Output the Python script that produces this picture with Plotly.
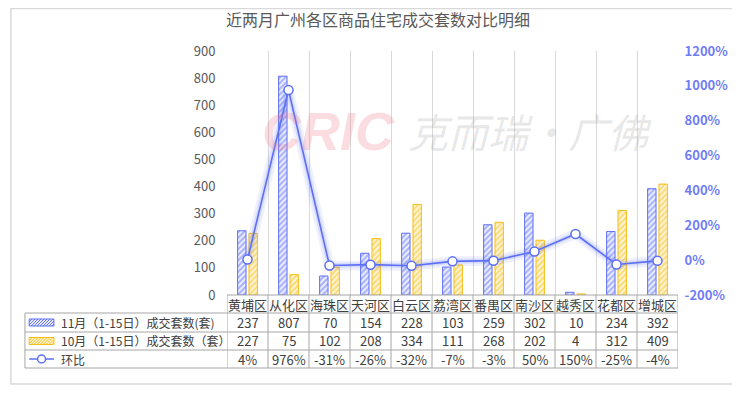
import plotly.graph_objects as go

districts = ["黄埔区", "从化区", "海珠区", "天河区", "白云区", "荔湾区", "番禺区", "南沙区", "越秀区", "花都区", "增城区"]
nov_sales = [237, 807, 70, 154, 228, 103, 259, 302, 10, 234, 392]
oct_sales = [227, 75, 102, 208, 334, 111, 268, 202, 4, 312, 409]
mom_pct = [4, 976, -31, -26, -32, -7, -3, 50, 150, -25, -4]

name_nov = "11月（1-15日）成交套数(套)"
name_oct = "10月（1-15日）成交套数（套）"
name_mom = "环比"
title = "近两月广州各区商品住宅成交套数对比明细"
left_ticks = list(range(0, 901, 100))
right_ticks = list(range(-200, 1201, 200))
right_labels = [f"{v}%" for v in right_ticks]

OFF = 8  # page body margin
VW, VH = 740, 393
W, H = VW - OFF, VH - OFF
L, R, T, B = 227, 683, 51, 295   # plot area in window pixels
FONT = "Noto Sans CJK SC, Noto Sans, sans-serif"
BLUE = "#5d6ff4"
YEL = "#f6bd16"

def px(x):
    return (x - L) / (R - L)

def py(y):
    return (B - y) / (B - T)

fig = go.Figure()
fig.add_trace(go.Bar(
    x=districts, y=nov_sales, name=name_nov,
    marker=dict(color="#eef0ff", line=dict(color=BLUE, width=1),
                pattern=dict(shape="/", fgcolor=BLUE, bgcolor="#eef0ff", size=4, solidity=0.5)),
))
fig.add_trace(go.Bar(
    x=districts, y=oct_sales, name=name_oct,
    marker=dict(color="#fff6d8", line=dict(color=YEL, width=1),
                pattern=dict(shape="/", fgcolor=YEL, bgcolor="#fff6d8", size=4, solidity=0.5)),
))
fig.add_trace(go.Scatter(x=districts, y=mom_pct, yaxis="y2", mode="lines",
                         line=dict(color="rgba(93,111,244,0.10)", width=10), hoverinfo="skip", showlegend=False))
fig.add_trace(go.Scatter(x=districts, y=mom_pct, yaxis="y2", mode="lines",
                         line=dict(color="rgba(93,111,244,0.16)", width=5), hoverinfo="skip", showlegend=False))
fig.add_trace(go.Scatter(x=districts, y=mom_pct, yaxis="y2", mode="lines+markers", name=name_mom,
                         line=dict(color=BLUE, width=1.6),
                         marker=dict(symbol="circle", size=9, color="white", line=dict(color=BLUE, width=1.5))))

shapes = []
annotations = []
LINEC = "#a6a6a6"
shapes.append(dict(type="rect", xref="paper", yref="paper", x0=px(OFF + 0.5), x1=px(738.5), y0=py(384), y1=py(OFF + 0.5),
                   line=dict(color="#d9d9d9", width=1.5), fillcolor="rgba(0,0,0,0)", layer="below"))

rows_y = [295, 313, 332, 350, 368]
tbl_left = 22.7
shapes.append(dict(type="line", xref="x", yref="paper", x0=-0.5, x1=len(districts) - 0.5,
                   y0=py(rows_y[0]), y1=py(rows_y[0]), line=dict(color=LINEC, width=1)))
for yy in rows_y[1:]:
    shapes.append(dict(type="line", xref="paper", yref="paper", x0=px(tbl_left), x1=1,
                       y0=py(yy), y1=py(yy), line=dict(color=LINEC, width=1)))
for i in range(len(districts) + 1):
    shapes.append(dict(type="line", xref="x", yref="paper", x0=i - 0.5, x1=i - 0.5,
                       y0=py(rows_y[0]), y1=py(rows_y[-1]), line=dict(color=LINEC, width=1)))
shapes.append(dict(type="line", xref="paper", yref="paper", x0=px(tbl_left), x1=px(tbl_left),
                   y0=py(rows_y[1]), y1=py(rows_y[-1]), line=dict(color=LINEC, width=1)))

row_centers = [(rows_y[k] + rows_y[k + 1]) / 2 for k in range(4)]
for i, d in enumerate(districts):
    annotations.append(dict(x=i, y=py(row_centers[0]), xref="x", yref="paper", text=d, showarrow=False,
                            xanchor="center", yanchor="middle",
                            font=dict(family=FONT, size=13, color="#404040")))
rows = [
    [str(v) for v in nov_sales],
    [str(v) for v in oct_sales],
    [f"{v}%" for v in mom_pct],
]
for k, vals in enumerate(rows):
    for i, v in enumerate(vals):
        annotations.append(dict(x=i, y=py(row_centers[k + 1]), xref="x", yref="paper", text=v, showarrow=False,
                                xanchor="center", yanchor="middle",
                                font=dict(family=FONT, size=13, color="#404040")))
for k, nm in enumerate([name_nov, name_oct, name_mom]):
    annotations.append(dict(x=px(57), y=py(row_centers[k + 1]), xref="paper", yref="paper", text=nm,
                            showarrow=False, xanchor="left", yanchor="middle",
                            font=dict(family=FONT, size=12, color="#404040")))

def key_rect(cy, fg, bg):
    x0, x1, y0, y1 = 27, 52, cy - 3.5, cy + 3.5
    shapes.append(dict(type="rect", xref="paper", yref="paper", x0=px(x0), x1=px(x1), y0=py(y1), y1=py(y0),
                       fillcolor=bg, line=dict(color=fg, width=1)))
    path = ""
    xs = x0 - 7
    while xs < x1:
        ax, ay = xs, y1
        bx, by = xs + 7, y0
        if ax < x0:
            ay = y1 - (x0 - ax)
            ax = x0
        if bx > x1:
            by = y0 + (bx - x1)
            bx = x1
        path += f"M{px(ax)},{py(ay)} L{px(bx)},{py(by)} "
        xs += 3
    shapes.append(dict(type="path", xref="paper", yref="paper", path=path, line=dict(color=fg, width=1)))

key_rect(row_centers[1], BLUE, "#eef0ff")
key_rect(row_centers[2], YEL, "#fff6d8")
shapes.append(dict(type="line", xref="paper", yref="paper", x0=px(27), x1=px(52),
                   y0=py(row_centers[3]), y1=py(row_centers[3]), line=dict(color=BLUE, width=1.5)))
shapes.append(dict(type="circle", xref="paper", yref="paper", x0=px(35.5), x1=px(43.5),
                   y0=py(row_centers[3] + 4), y1=py(row_centers[3] - 4),
                   fillcolor="white", line=dict(color=BLUE, width=1.5)))

annotations.append(dict(x=px(380), y=py(18.5), xref="paper", yref="paper", text=title, showarrow=False,
                        xanchor="center", yanchor="middle",
                        font=dict(family=FONT, size=16, color="#595959")))
annotations.append(dict(x=px(260), y=py(131), xref="paper", yref="paper", text="<b><i>CRIC</i></b>",
                        showarrow=False, xanchor="left", yanchor="middle",
                        font=dict(family="Liberation Sans, Arial", size=54, color="rgba(240,120,135,0.25)")))
annotations.append(dict(x=px(408), y=py(131), xref="paper", yref="paper", text="<i>克而瑞·广佛</i>",
                        showarrow=False, xanchor="left", yanchor="middle",
                        font=dict(family=FONT, size=40, color="rgba(150,150,150,0.22)")))

fig.update_layout(
    width=W, height=H,
    margin=dict(l=L - OFF, r=VW - R, t=T - OFF, b=VH - B, pad=0),
    paper_bgcolor="white", plot_bgcolor="white",
    barmode="group", bargap=0.446, bargroupgap=0.26,
    showlegend=False,
    font=dict(family=FONT, color="#595959"),
    xaxis=dict(type="category", range=[-0.5, len(districts) - 0.5], showgrid=True, gridcolor="#d9d9d9",
               tickson="boundaries", showticklabels=False, ticks="", showline=False, zeroline=False),
    yaxis=dict(range=[0, 900], tickvals=left_ticks, showgrid=False, zeroline=False, showline=False,
               tickfont=dict(family=FONT, size=13, color="#595959"), ticks="outside", ticklen=8,
               tickcolor="rgba(0,0,0,0)"),
    yaxis2=dict(range=[-200, 1200], tickmode="array", tickvals=right_ticks, ticktext=right_labels,
                overlaying="y", side="right",
                showgrid=False, zeroline=False, showline=False,
                tickfont=dict(family=FONT, size=13, color="#6f7cf6", weight="bold"),
                ticks="outside", ticklen=3, tickcolor="rgba(0,0,0,0)"),
    shapes=shapes,
    annotations=annotations,
)

fig.write_html("out.html")
